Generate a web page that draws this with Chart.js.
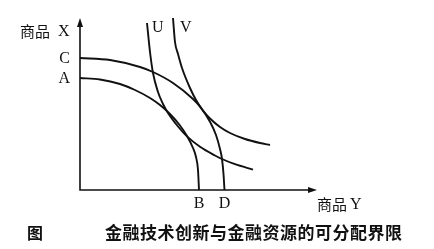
<!DOCTYPE html>
<html>
<head>
<meta charset="utf-8">
<script src="https://cdn.jsdelivr.net/npm/chart.js@4.4.1/dist/chart.umd.min.js"></script>
<style>
    html, body { margin: 0; padding: 0; background: #fff; }
    #ppf { display: block; }
</style>
</head>
<body>
<canvas id="ppf" width="434" height="249"></canvas>
<script>
// 生产可能性曲线 A-B (内) 和 C-D (外)
const abX = [0, 20, 40, 55, 70, 80, 90, 100, 107, 113, 116, 118, 119];
const abY = [112, 110.5, 106, 100, 92, 85, 76, 64.5, 54, 42, 33, 20, 0];
const cdX = [0, 30, 60, 73, 93, 113, 120, 130, 136, 140, 142, 143.5, 144.5];
const cdY = [132, 130, 123, 118, 107, 91, 83.3, 68.3, 55, 41, 31, 16, 0];
// 无差异曲线 U, V
const uX = [67, 70, 73, 78, 83, 88, 98, 107, 120, 135, 142, 155, 173];
const uY = [167, 138, 117, 98, 86, 77, 63.5, 53.6, 43.2, 34.5, 31, 25.8, 20.4];
const vX = [93, 95, 98, 102, 110, 116, 123, 130, 140, 150, 165, 180, 190];
const vY = [172, 148, 136, 122, 102, 90, 79.5, 71.5, 63, 57, 51, 47, 45];

// 轴上的标记
const yMarks = ['C', 'A'];
const yMarkVals = [cdY[0], abY[0]];
const xMarks = ['B', 'D'];
const xMarkVals = [abX[abX.length - 1], cdX[cdX.length - 1]];
const axisEnd = { x: 237, y: 172 };

const pts = (xs, ys) => xs.map((x, i) => ({ x: x, y: ys[i] }));

const curve = (label, xs, ys) => ({
    label: label,
    data: pts(xs, ys),
    showLine: true,
    borderColor: '#111',
    borderWidth: 1.9,
    pointRadius: 0,
    cubicInterpolationMode: 'monotone',
    fill: false
});

const serif = '"Liberation Serif", "DejaVu Serif", serif';
const cjk = '"Noto Sans CJK SC", sans-serif';

const drawing = {
    id: 'drawing',
    afterDatasetsDraw(chart) {
        const c = chart.ctx;
        const sx = chart.scales.x, sy = chart.scales.y;
        const x0 = sx.getPixelForValue(0), y0 = sy.getPixelForValue(0);
        const xe = sx.getPixelForValue(axisEnd.x), ye = sy.getPixelForValue(axisEnd.y);
        c.save();
        c.strokeStyle = '#111';
        c.fillStyle = '#111';
        c.lineWidth = 1.6;
        // axes
        c.beginPath();
        c.moveTo(x0, ye + 6);
        c.lineTo(x0, y0);
        c.lineTo(xe - 6, y0);
        c.stroke();
        // arrow heads
        c.beginPath();
        c.moveTo(x0, ye);
        c.lineTo(x0 - 3, ye + 9);
        c.lineTo(x0 + 3, ye + 9);
        c.closePath();
        c.fill();
        c.beginPath();
        c.moveTo(xe, y0);
        c.lineTo(xe - 9, y0 - 3);
        c.lineTo(xe - 9, y0 + 3);
        c.closePath();
        c.fill();

        c.textBaseline = 'middle';
        c.font = '16px ' + serif;
        c.textAlign = 'right';
        yMarks.forEach((t, i) => c.fillText(t, x0 - 10, sy.getPixelForValue(yMarkVals[i]) + 1));
        c.textAlign = 'center';
        xMarks.forEach((t, i) => c.fillText(t, sx.getPixelForValue(xMarkVals[i]), y0 + 14));
        // curve names
        c.textAlign = 'left';
        c.fillText('U', sx.getPixelForValue(uX[0]) + 5, sy.getPixelForValue(uY[0]) + 5);
        c.fillText('V', sx.getPixelForValue(vX[0]) + 7, sy.getPixelForValue(vY[0]) + 10);
        // axis titles
        c.font = '15px ' + cjk;
        c.fillText('商品', 20, 31);
        c.fillText('商品', 317, 204);
        c.font = '16px ' + serif;
        c.fillText('X', 58, 32);
        c.fillText('Y', 350, 205);
        // caption
        c.font = 'bold 16px ' + cjk;
        c.fillText('图', 27, 233);
        c.font = 'bold 17px ' + cjk;
        c.letterSpacing = '0.5px';
        c.fillText('金融技术创新与金融资源的可分配界限', 105, 233);
        c.restore();
    }
};

const ctx = document.getElementById('ppf');
new Chart(ctx, {
    type: 'scatter',
    data: {
        datasets: [
            curve('AB', abX, abY),
            curve('CD', cdX, cdY),
            curve('U', uX, uY),
            curve('V', vX, vY)
        ]
    },
    options: {
        responsive: false,
        animation: false,
        layout: { padding: { left: 80, right: 114, top: 15, bottom: 59 } },
        plugins: {
            legend: { display: false },
            tooltip: { enabled: false }
        },
        scales: {
            x: { type: 'linear', min: 0, max: 240, display: false },
            y: { type: 'linear', min: 0, max: 175, display: false }
        }
    },
    plugins: [drawing]
});
</script>
</body>
</html>
